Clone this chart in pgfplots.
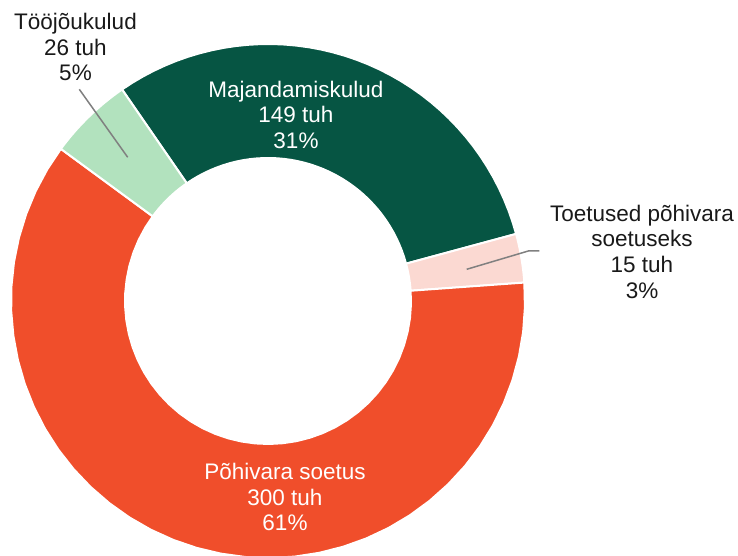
\documentclass[border=0pt]{standalone}
\usepackage{fontspec}
\setmainfont{Liberation Sans}
\usepackage{pgfplots}
\usepackage{pgfplotstable}
\pgfplotsset{compat=1.18}
\definecolor{tumeroheline}{HTML}{065543}
\definecolor{oranz}{HTML}{F04E2B}
\definecolor{heleroheline}{HTML}{B2E2BE}
\definecolor{roosa}{HTML}{FBD9D2}
\definecolor{joon}{HTML}{808080}
\tikzset{silt/.style={align=center, font=\fontsize{22.5}{25.7}\selectfont}}

\pgfplotstableread{
osa value
Majandamiskulud 149
Toetused 15
Pohivara 300
Toojoukulud 26
}\osad

% slice angles, clockwise from the first boundary
\pgfplotstablegetelem{0}{value}\of\osad \let\vA\pgfplotsretval
\pgfplotstablegetelem{1}{value}\of\osad \let\vB\pgfplotsretval
\pgfplotstablegetelem{2}{value}\of\osad \let\vC\pgfplotsretval
\pgfplotstablegetelem{3}{value}\of\osad \let\vD\pgfplotsretval
\pgfmathsetmacro{\total}{\vA+\vB+\vC+\vD}
\pgfmathsetmacro{\aA}{124.6}
\pgfmathsetmacro{\aB}{\aA-\vA/\total*360}
\pgfmathsetmacro{\aC}{\aB-\vB/\total*360}
\pgfmathsetmacro{\aD}{\aC-\vC/\total*360}
\pgfmathsetmacro{\aE}{\aD-\vD/\total*360}

\def\cx{268}\def\cy{255}\def\Rout{257}\def\Rin{143}

% outer arc (t = 0..40), then inner arc back (t = 80..120)
\newcommand{\slice}[3]{%
  \addplot[fill=#3, draw=white, line width=2pt,
    samples at={0,1,...,40,80,81,...,120}, variable=\t]
  ({\cx+(\t<60?\Rout:\Rin)*cos(\t<60?(#1+(#2-#1)*\t/40):(#2-(#2-#1)*(\t-80)/40))},
   {\cy+(\t<60?\Rout:\Rin)*sin(\t<60?(#1+(#2-#1)*\t/40):(#2-(#2-#1)*(\t-80)/40))}) -- cycle;
}

\begin{document}
\begin{tikzpicture}
\begin{axis}[
  width=738pt, height=556pt, scale only axis,
  xmin=0, xmax=738, ymin=0, ymax=556,
  hide axis, clip mode=individual
]
  \addplot[draw=none] coordinates {(0,0) (738,556)};
  \slice{\aA}{\aB}{tumeroheline}
  \slice{\aB}{\aC}{roosa}
  \slice{\aC}{\aD}{oranz}
  \slice{\aD}{\aE}{heleroheline}

  % leader lines
  \addplot[joon, line width=1.5pt] coordinates {(79.3,466.7) (127.7,398.7)};
  \addplot[joon, line width=1.5pt] coordinates {(466.7,286.7) (528.3,305) (539.3,305)};

  \node[silt, text=white] at (axis cs:296,441.3) {Majandamiskulud\\149 tuh\\31\%};
  \node[silt, text=white] at (axis cs:285,59) {Põhivara soetus\\300 tuh\\61\%};
  \node[silt, text=black!90] at (axis cs:75.5,509) {Tööjõukulud\\26 tuh\\5\%};
  \node[silt, text=black!90] at (axis cs:642,304.3) {Toetused põhivara\\soetuseks\\15 tuh\\3\%};
\end{axis}
\end{tikzpicture}
\end{document}
